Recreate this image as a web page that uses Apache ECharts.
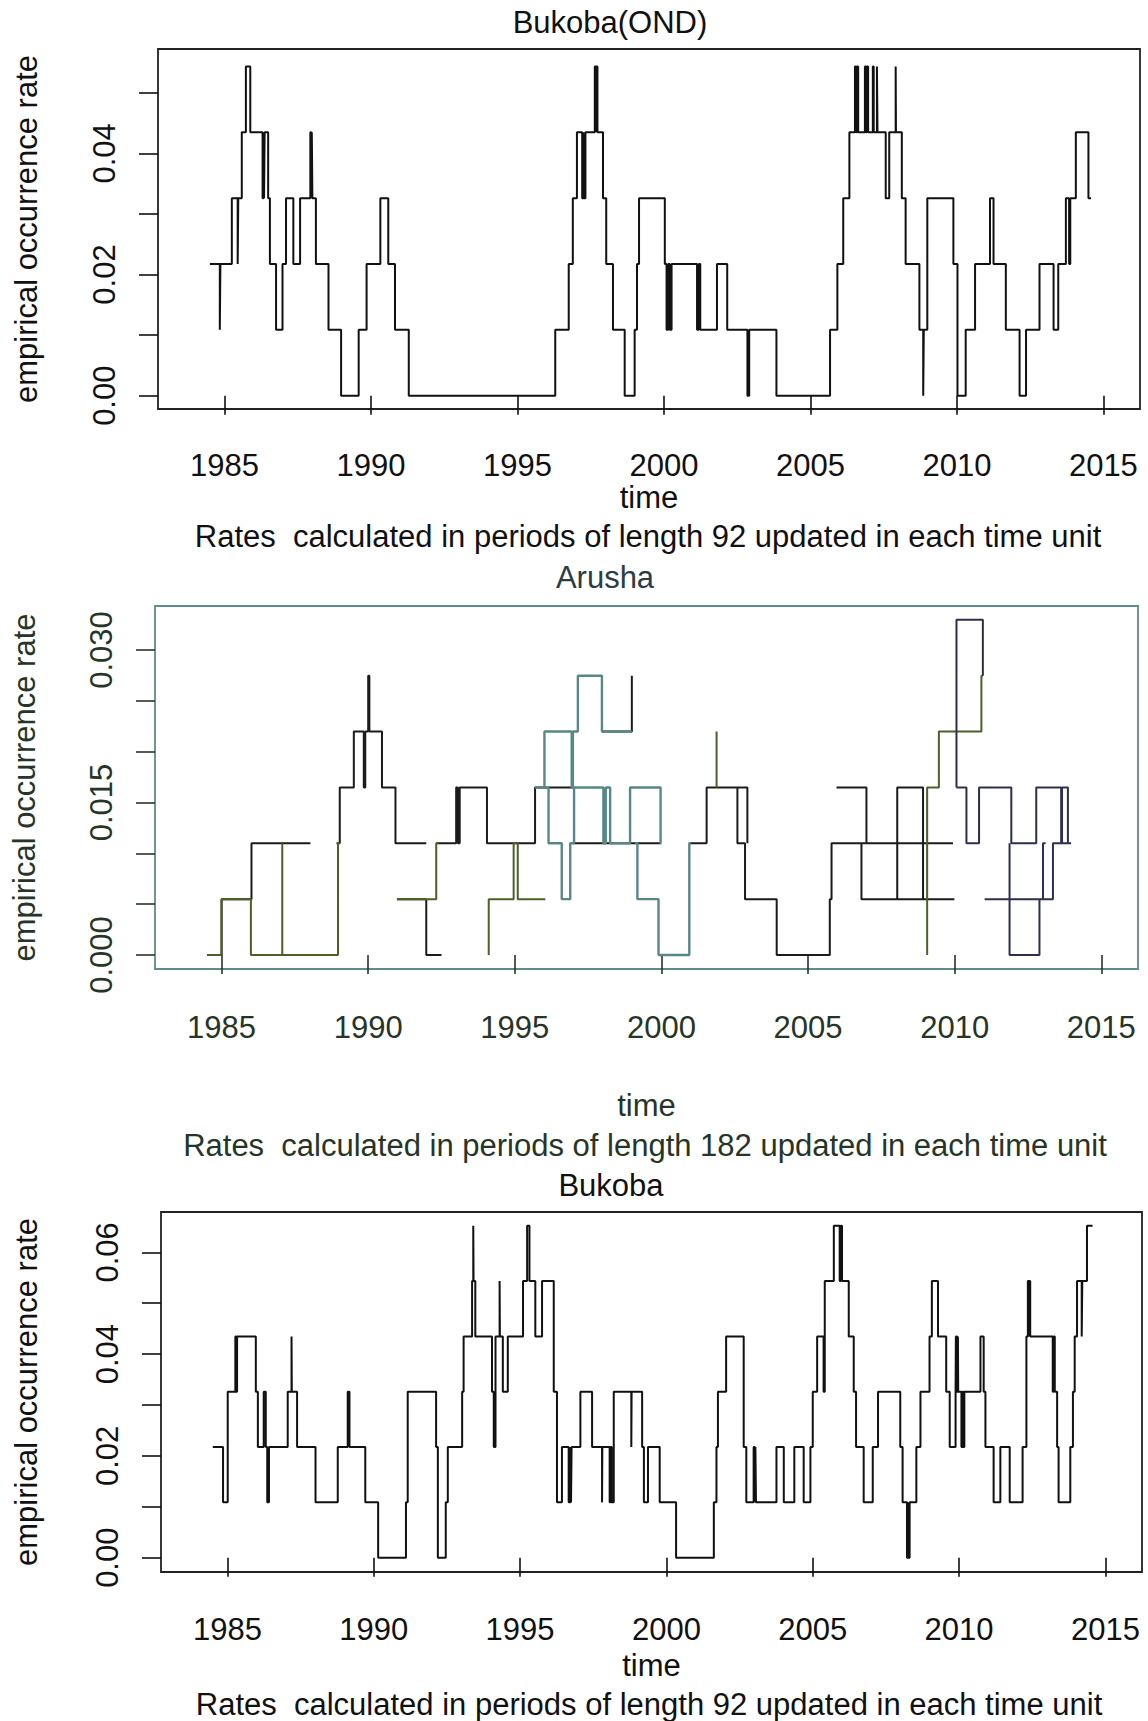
<!DOCTYPE html>
<html>
<head>
<meta charset="utf-8">
<script src="https://cdn.jsdelivr.net/npm/echarts@6/dist/echarts.min.js"></script>
<style>
html, body { margin: 0; padding: 0; background: #fff; }
#container { width: 1148px; height: 1721px; }
</style>
</head>
<body>
<div id="container"></div>
<script>
var dom = document.getElementById("container");
var myChart = echarts.init(dom, null, { renderer: 'svg' });
var option;

// tick positions
var yearTicks = [1985, 1990, 1995, 2000, 2005, 2010, 2015];
var ondTicks = [0, 0.01, 0.02, 0.03, 0.04, 0.05];
var ondLabels = [0, 0.02, 0.04];
var aruTicks = [0, 0.005, 0.01, 0.015, 0.02, 0.025, 0.03];
var aruLabels = [0, 0.015, 0.03];
var bukTicks = [0, 0.01, 0.02, 0.03, 0.04, 0.05, 0.06];
var bukLabels = [0, 0.02, 0.04, 0.06];

// Bukoba(OND): event counts in 92-day windows, at the times they change
var ondTime = [1984.50,1984.84,1984.86,1985.25,1985.45,1985.47,1985.59,1985.73,1985.88,1986.30,1986.33,1986.35,1986.37,1986.49,1986.55,1986.76,1986.98,1987.10,1987.35,1987.58,1987.93,1987.96,1987.98,1988.00,1988.12,1988.55,1988.98,1989.58,1989.85,1990.32,1990.59,1990.82,1991.29,1996.29,1996.75,1996.89,1997.03,1997.21,1997.25,1997.27,1997.32,1997.64,1997.67,1997.69,1997.73,1997.92,1998.03,1998.26,1998.66,1999.00,1999.08,1999.15,2000.03,2000.09,2000.15,2000.20,2000.26,2001.13,2001.19,2001.24,2001.81,2002.16,2002.85,2002.91,2003.84,2005.67,2005.92,2006.12,2006.33,2006.52,2006.56,2006.59,2006.63,2006.86,2006.90,2006.93,2006.97,2007.13,2007.16,2007.27,2007.29,2007.57,2007.69,2007.91,2007.92,2008.12,2008.25,2008.72,2008.85,2008.87,2008.99,2009.88,2010.02,2010.30,2010.62,2011.13,2011.25,2011.67,2012.14,2012.36,2012.82,2013.30,2013.46,2013.72,2013.83,2013.87,2014.06,2014.49,2014.58];
var ondCount = [2,1,2,3,2,3,4,5,4,3,4,3,4,3,2,1,2,3,2,3,4,3,4,3,2,1,0,1,2,3,2,1,0,1,2,3,4,3,4,3,4,5,4,5,4,3,2,1,0,1,2,3,2,1,2,1,2,1,2,1,2,1,0,1,0,1,2,3,4,5,4,5,4,5,4,5,4,5,4,5,4,3,4,5,4,3,2,1,0,1,3,2,0,1,2,3,2,1,0,1,2,1,2,3,2,3,4,3,3];

// Arusha: counts in 182-day windows, several overlaid traces (null = break)
var aruBlackTime = [1984.51,1985.00,1986.02,1988.03,1988.03,
  1988.92,1989.03,1989.51,1989.85,1989.90,1990.00,1990.04,1990.47,1990.93,1991.98,1991.98,
  1990.98,1991.98,1992.50,1992.50,
  1992.32,1993.00,1993.06,1993.12,1994.05,1995.69,1997.02,1997.02,
  1996.98,1999.97,1999.97,
  1997.97,1998.99,1998.99,
  2000.95,2001.54,2002.59,2002.85,2003.93,2005.74,2005.80,2009.94,2009.94,
  2002.59,2002.93,2002.93,
  2005.97,2006.99,2006.99,
  2006.76,2006.82,2009.99,2009.99,
  2008.04,2008.04,2008.92];
var aruBlackCount = [0,1,2,2,null,
  2,3,4,3,4,5,4,3,2,2,null,
  1,0,0,null,
  2,3,2,3,2,3,3,null,
  2,2,null,
  4,5,null,
  2,3,2,1,0,1,2,2,null,
  3,2,null,
  3,2,null,
  2,1,1,null,
  1,3,1];
var aruOliveTime = [1984.51,1985.00,1986.00,1988.97,1989.03,1989.03,
  1987.07,1987.07,1987.07,
  1990.98,1992.32,1992.40,1992.40,
  1994.11,1994.11,1994.96,1995.10,1996.04,1996.04,
  2001.88,2001.88,2001.88,
  2009.06,2009.06,2009.46,2010.91,2010.96];
var aruOliveCount = [0,1,0,2,2,null,
  2,0,null,
  1,2,2,null,
  0,1,2,1,1,null,
  3,4,null,
  0,3,4,5,5];
var aruTealTime = [1995.69,1996.01,1996.94,1996.98,1997.15,1997.97,1998.99,1998.99,
  1996.01,1996.15,1996.60,1996.89,1997.02,1998.02,1998.10,1998.25,1998.93,1999.97,2000.00,2000.00,
  1999.10,1999.18,1999.90,2000.95,2001.00];
var aruTealCount = [3,4,3,4,5,4,4,null,
  3,2,1,2,3,2,3,2,3,2,2,null,
  2,1,0,2,2];
var aruNavyTime = [2010.06,2010.06,2010.96,2010.96,
  2010.06,2010.40,2010.83,2011.93,2012.78,2013.63,2013.66,2013.86,2013.97,2013.97,
  2011.02,2013.35,2013.97,2013.97,
  2011.87,2011.87,2012.89,2013.01,2013.10];
var aruNavyCount = [3,6,5,null,
  3,2,3,2,3,2,3,2,2,null,
  1,2,2,null,
  2,0,1,2,2];

// Bukoba: counts in 92-day windows
var bukTime = [1984.50,1984.85,1985.01,1985.27,1985.30,1985.33,1985.97,1986.04,1986.24,1986.31,1986.36,1986.42,1987.06,1987.19,1987.20,1987.38,1988.01,1988.77,1989.11,1989.17,1989.71,1990.15,1991.10,1991.16,1992.13,1992.19,1992.46,1992.53,1993.02,1993.07,1993.36,1993.40,1993.41,1993.47,1994.04,1994.10,1994.16,1994.30,1994.31,1994.41,1994.58,1995.10,1995.24,1995.32,1995.52,1995.75,1996.15,1996.26,1996.43,1996.66,1996.72,1996.74,1996.76,1997.06,1997.46,1997.80,1997.81,1998.06,1998.10,1998.13,1998.20,1998.80,1998.81,1999.17,1999.23,1999.37,1999.77,2000.33,2001.62,2001.71,2001.76,2002.04,2002.64,2002.73,2002.98,2003.02,2003.04,2003.06,2003.76,2004.01,2004.37,2004.69,2004.92,2005.00,2005.15,2005.37,2005.41,2005.72,2005.92,2005.96,2006.00,2006.23,2006.40,2006.48,2006.74,2007.05,2007.23,2007.99,2008.07,2008.22,2008.26,2008.28,2008.31,2008.54,2008.68,2008.99,2009.07,2009.28,2009.56,2009.68,2009.88,2009.89,2009.93,2009.96,2009.97,2010.08,2010.12,2010.15,2010.18,2010.73,2010.84,2010.90,2011.18,2011.41,2011.73,2012.17,2012.30,2012.35,2012.38,2012.40,2012.43,2013.20,2013.23,2013.27,2013.35,2013.40,2013.80,2013.89,2013.95,2014.03,2014.19,2014.21,2014.37,2014.56];
var bukCount = [2,1,3,4,3,4,3,2,3,2,1,2,3,4,3,2,1,2,3,2,1,0,1,3,2,0,1,2,3,4,5,6,5,4,3,2,4,5,4,3,4,5,6,5,4,5,3,1,2,1,2,1,2,3,2,1,2,1,2,1,3,2,3,2,1,2,1,0,1,2,3,4,2,1,2,1,2,1,2,1,2,1,2,3,4,3,5,6,5,6,5,4,3,2,1,2,3,2,1,0,1,0,1,2,3,4,5,4,3,2,3,4,3,4,3,2,3,2,3,4,3,2,1,2,1,2,4,5,4,5,4,3,4,3,2,1,2,3,4,5,4,5,6,6];

var font = "'Liberation Sans', Arial, sans-serif";
var black = '#111';
var aruText = '#263526';
var aruBox = '#5f8b8b';

function steps(times, counts, len) {
    var out = [];
    for (var i = 0; i < times.length; i++) {
        out.push([times[i], counts[i] === null ? '-' : counts[i] / len]);
    }
    return out;
}

function makeGrid(left, top, width, height, border) {
    return {
        left: left, top: top, width: width, height: height,
        show: true, borderColor: border, borderWidth: 1.8,
        backgroundColor: 'transparent', containLabel: false,
        outerBoundsMode: 'none'
    };
}

function makeX(idx, gap, margin, color) {
    return {
        type: 'value', gridIndex: idx, min: 1982.73, max: 2016.25,
        name: 'time', nameLocation: 'middle', nameGap: gap,
        nameTextStyle: { fontSize: 31, fontFamily: font, color: color },
        axisLine: { show: false },
        axisTick: { show: true, length: 19, customValues: yearTicks, lineStyle: { color: color, width: 1.6 } },
        axisLabel: {
            customValues: yearTicks, margin: margin, fontSize: 31, fontFamily: font, color: color,
            formatter: function (v) { return String(v); }
        },
        splitLine: { show: false }
    };
}

function makeY(idx, min, max, ticks, labels, digits, gap, color) {
    return {
        type: 'value', gridIndex: idx, min: min, max: max,
        name: 'empirical occurrence rate', nameLocation: 'middle', nameGap: gap,
        nameTextStyle: { fontSize: 31, fontFamily: font, color: color },
        axisLine: { show: false },
        axisTick: { show: true, length: 19, customValues: ticks, lineStyle: { color: color, width: 1.6 } },
        axisLabel: {
            customValues: labels, rotate: 90, margin: 38, fontSize: 31, fontFamily: font, color: color,
            formatter: function (v) { return v.toFixed(digits); }
        },
        splitLine: { show: false }
    };
}

function stepSeries(name, idx, data, color, width) {
    return {
        name: name, type: 'line', xAxisIndex: idx, yAxisIndex: idx,
        step: 'end', showSymbol: false, symbol: 'none', connectNulls: false,
        silent: true, animation: false,
        lineStyle: { color: color, width: width || 2 },
        data: data
    };
}

function caption(text, x, y, color) {
    return {
        type: 'text', x: x, y: y, silent: true,
        style: {
            text: text, fill: color, font: '31px ' + font,
            textAlign: 'center', textVerticalAlign: 'middle'
        }
    };
}

option = {
    backgroundColor: '#fff',
    animation: false,
    grid: [
        makeGrid(158, 49, 982, 360, '#222'),
        makeGrid(155, 606, 983, 363, aruBox),
        makeGrid(161, 1212, 981, 360, '#222')
    ],
    xAxis: [
        makeX(0, 72, 41, black),
        makeX(1, 121, 43, aruText),
        makeX(2, 78, 42, black)
    ],
    yAxis: [
        makeY(0, -0.002195, 0.05723, ondTicks, ondLabels, 2, 116, black),
        makeY(1, -0.001377, 0.03433, aruTicks, aruLabels, 3, 115, aruText),
        makeY(2, -0.00281, 0.06792, bukTicks, bukLabels, 2, 119, black)
    ],
    series: [
        stepSeries('Bukoba(OND)', 0, steps(ondTime, ondCount, 92), black),
        stepSeries('Arusha black', 1, steps(aruBlackTime, aruBlackCount, 182), '#1b1b1b'),
        stepSeries('Arusha olive', 1, steps(aruOliveTime, aruOliveCount, 182), '#4c6028'),
        stepSeries('Arusha navy', 1, steps(aruNavyTime, aruNavyCount, 182), '#2e2e50'),
        stepSeries('Arusha teal', 1, steps(aruTealTime, aruTealCount, 182), '#578787', 2.4),
        stepSeries('Bukoba', 2, steps(bukTime, bukCount, 92), black)
    ],
    graphic: [
        caption('Bukoba(OND)', 610, 22, black),
        caption('Rates  calculated in periods of length 92 updated in each time unit', 648, 536, black),
        caption('Arusha', 605, 577, '#2a3d42'),
        caption('Rates  calculated in periods of length 182 updated in each time unit', 645, 1145, aruText),
        caption('Bukoba', 611, 1185, black),
        caption('Rates  calculated in periods of length 92 updated in each time unit', 649, 1704, black)
    ]
};

if (option && typeof option === 'object') {
    myChart.setOption(option);
}
</script>
</body>
</html>
